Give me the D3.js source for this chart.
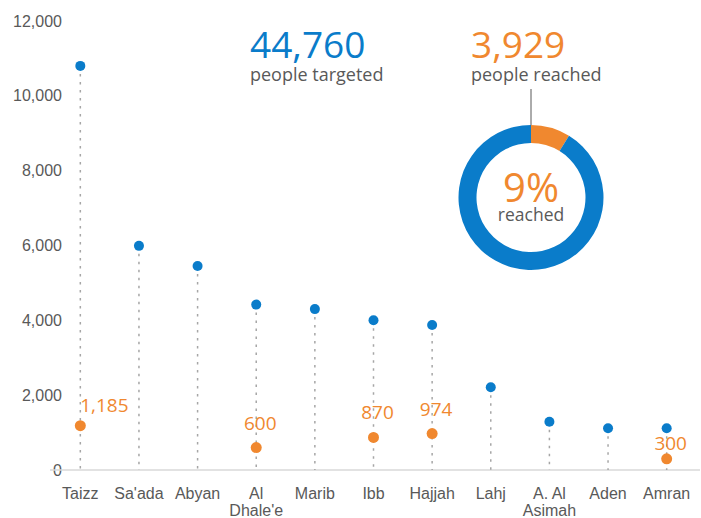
<!DOCTYPE html>
<html>
<head>
<meta charset="utf-8">
<script src="https://cdn.jsdelivr.net/npm/d3@7"></script>
<style>
  body { margin: 0; background: #fff; }
  svg { font-family: "Open Sans", sans-serif; }
  .tick text { fill: #595959; font-size: 16px; }
</style>
</head>
<body>
<div id="chart"></div>
<script>
// data
var governorates = ["Taizz", "Sa'ada", "Abyan", "Al Dhale'e", "Marib", "Ibb", "Hajjah", "Lahj", "A. Al Asimah", "Aden", "Amran"];
var targeted = [10800, 5990, 5450, 4420, 4300, 4000, 3875, 2210, 1290, 1115, 1115];
var reached = [1185, null, null, 600, null, 870, 974, null, null, null, 300];
var yTicks = [0, 2000, 4000, 6000, 8000, 10000, 12000];
var totalTargeted = 44760;
var totalReached = 3929;

var blue = "#0A7CCA", orange = "#F0882F", grey = "#595959";
var W = 701, H = 518;

var svg = d3.select("#chart").append("svg")
    .attr("width", W)
    .attr("height", H);

var x = d3.scaleBand().domain(governorates).range([51, 696]);
var y = d3.scaleLinear().domain([0, 12000]).range([470, 21]);
var fmt = d3.format(",");

// Y axis (labels only)
var yAxis = svg.append("g")
    .attr("transform", "translate(65,0)")
    .call(d3.axisLeft(y).tickValues(yTicks).tickSize(0).tickPadding(3).tickFormat(fmt));
yAxis.select(".domain").remove();

// baseline
svg.append("line")
    .attr("x1", 50).attr("x2", 700)
    .attr("y1", y(0)).attr("y2", y(0))
    .attr("stroke", "#d9d9d9")
    .attr("stroke-width", 1.5);

// X axis labels, wrapped on two lines where needed
var xAxis = svg.append("g")
    .attr("transform", "translate(0," + y(0) + ")")
    .call(d3.axisBottom(x).tickSize(0).tickPadding(0));
xAxis.select(".domain").remove();
xAxis.selectAll(".tick text").each(function(d) {
    var t = d3.select(this).text(null).attr("y", 0).attr("dy", null);
    var lines = d === "Al Dhale'e" ? ["Al", "Dhale'e"] : d === "A. Al Asimah" ? ["A. Al", "Asimah"] : [d];
    lines.forEach(function(l, i) {
        t.append("tspan").attr("x", 0).attr("y", 29 + i * 17).text(l);
    });
});

var data = governorates.map(function(g, i) {
    return { name: g, t: targeted[i], r: reached[i] };
});
var cx = function(d) { return x(d.name) + x.bandwidth() / 2; };

// stems
svg.append("g").selectAll("line")
    .data(data)
    .enter().append("line")
    .attr("x1", cx).attr("x2", cx)
    .attr("y1", function(d) { return y(d.t); })
    .attr("y2", y(0))
    .attr("stroke", "#a6a6a6")
    .attr("stroke-width", 1.5)
    .attr("stroke-dasharray", "2.5,5.5");

// targeted dots
svg.append("g").selectAll("circle")
    .data(data)
    .enter().append("circle")
    .attr("cx", cx)
    .attr("cy", function(d) { return y(d.t); })
    .attr("r", 5)
    .attr("fill", blue);

// reached dots + labels
var withReach = data.filter(function(d) { return d.r != null; });
svg.append("g").selectAll("circle")
    .data(withReach)
    .enter().append("circle")
    .attr("cx", cx)
    .attr("cy", function(d) { return y(d.r); })
    .attr("r", 5.5)
    .attr("fill", orange);

svg.append("g").selectAll("text")
    .data(withReach)
    .enter().append("text")
    .attr("x", function(d) { return cx(d) + (d.name === "Taizz" ? 24 : 4); })
    .attr("y", function(d) { return y(d.r) - (d.name === "Taizz" ? 14 : d.name === "Amran" ? 9 : 18); })
    .attr("text-anchor", "middle")
    .attr("fill", orange)
    .attr("font-size", 19)
    .text(function(d) { return fmt(d.r); });

// headline numbers
function headline(xp, value, label, color) {
    svg.append("text")
        .attr("x", xp).attr("y", 58)
        .attr("fill", color)
        .attr("font-size", 37)
        .text(fmt(value));
    svg.append("text")
        .attr("x", xp).attr("y", 81)
        .attr("fill", grey)
        .attr("font-size", 18)
        .text(label);
}
headline(250, totalTargeted, "people targeted", blue);
headline(471, totalReached, "people reached", orange);

// donut
var dcx = 531, dcy = 197.5;
svg.append("line")
    .attr("x1", dcx).attr("x2", dcx)
    .attr("y1", 89).attr("y2", 125)
    .attr("stroke", grey)
    .attr("stroke-width", 1);

var pie = d3.pie().sort(null).value(function(d) { return d; });
var arc = d3.arc().innerRadius(54.5).outerRadius(72.5);
var donut = svg.append("g").attr("transform", "translate(" + dcx + "," + dcy + ")");
donut.selectAll("path")
    .data(pie([totalReached, totalTargeted - totalReached]))
    .enter().append("path")
    .attr("d", arc)
    .attr("fill", function(d, i) { return i === 0 ? orange : blue; });

donut.append("text")
    .attr("y", 4)
    .attr("text-anchor", "middle")
    .attr("fill", orange)
    .attr("font-size", 40)
    .text(Math.round(totalReached / totalTargeted * 100) + "%");
donut.append("text")
    .attr("y", 23)
    .attr("text-anchor", "middle")
    .attr("fill", grey)
    .attr("font-size", 17.5)
    .text("reached");
</script>
</body>
</html>
